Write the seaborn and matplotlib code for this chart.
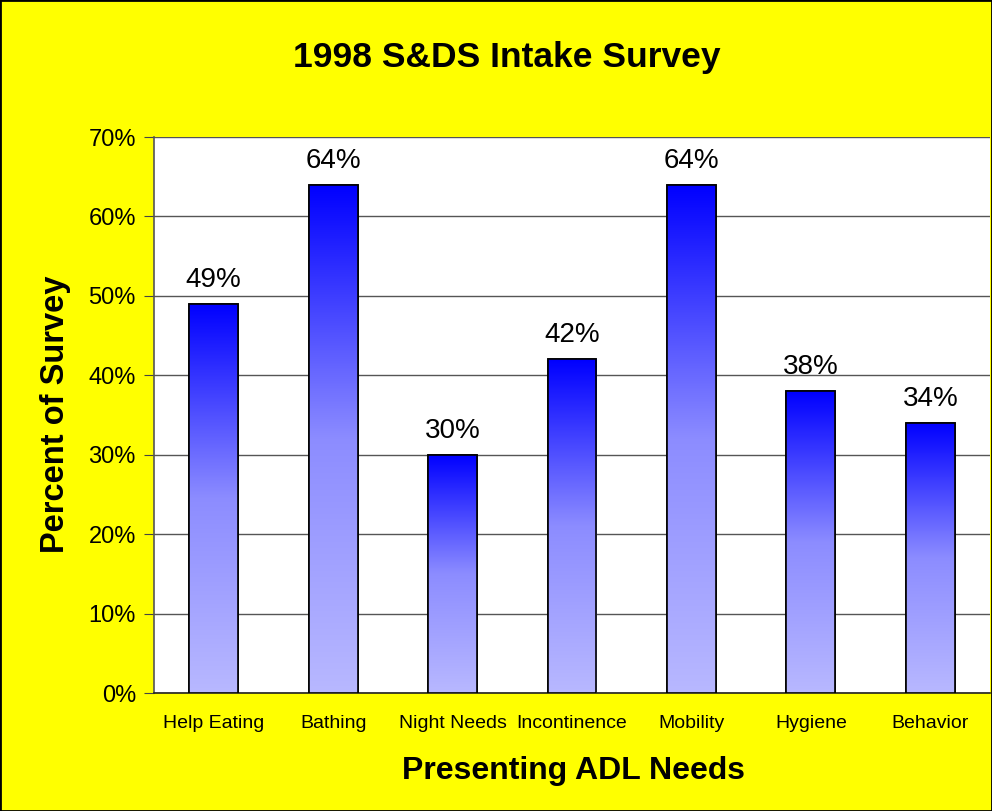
import numpy as np
import pandas as pd
import matplotlib.pyplot as plt
import seaborn as sns
from matplotlib.colors import LinearSegmentedColormap
from matplotlib.patches import Rectangle

# survey data
needs = ["Help Eating", "Bathing", "Night Needs", "Incontinence", "Mobility", "Hygiene", "Behavior"]
percent = [49, 64, 30, 42, 64, 38, 34]
y_ticks = [0, 10, 20, 30, 40, 50, 60, 70]

df = pd.DataFrame({"need": needs, "pct": percent})

sns.set_style("white")
plt.rcParams["font.family"] = ["Liberation Sans", "DejaVu Sans"]
plt.rcParams["text.color"] = "black"
plt.rcParams["axes.labelcolor"] = "black"

fig = plt.figure(figsize=(9.92, 8.11), dpi=100, facecolor="#FFFF00")
ax = fig.add_axes([154 / 992, 118 / 811, 836 / 992, 556 / 811])
ax.set_facecolor("white")

sns.barplot(data=df, x="need", y="pct", color="#0000FF", width=0.41,
            edgecolor="black", linewidth=1.2, ax=ax, zorder=3)

# gradient fill: blue at top of each bar, pale lavender at bottom
cmap = LinearSegmentedColormap.from_list("grad", ["#B8B8FF", "#8C8CFF", "#0000FF"])
grad = np.linspace(0, 1, 256).reshape(-1, 1)
for p in ax.patches:
    x0, w, h = p.get_x(), p.get_width(), p.get_height()
    im = ax.imshow(grad, cmap=cmap, origin="lower", aspect="auto",
                   extent=[x0, x0 + w, 0, h], zorder=3.5)
    im.set_clip_path(p)
    # redraw the outline above the gradient
    ax.add_patch(Rectangle((x0, 0), w, h, fill=False, edgecolor="black",
                           linewidth=1.2, zorder=4))
ax.set_xlim(-0.5, len(needs) - 0.5)
ax.set_ylim(0, 70)

# value labels
for i, v in enumerate(percent):
    ax.annotate(f"{v}%", (i, v), xytext=(0, 8), textcoords="offset points",
                ha="center", va="bottom", fontsize=20, color="black", zorder=5)

# axes styling
ax.set_yticks(y_ticks)
ax.set_yticklabels([f"{t}%" for t in y_ticks], fontsize=17)
ax.yaxis.grid(True, color="#555555", linewidth=1)
ax.set_axisbelow(True)
ax.set_xticks(np.arange(-0.5, len(needs)), labels=[""] * (len(needs) + 1))
ax.set_xticks(np.arange(len(needs)), labels=needs, minor=True, fontsize=14)
ax.tick_params(axis="x", which="major", length=6, color="#444444", direction="out")
ax.tick_params(axis="x", which="minor", length=0, pad=16, labelcolor="black")
ax.tick_params(axis="y", length=7, color="#444444", direction="out", pad=6, left=True,
               labelcolor="black")

for s in ["top", "right"]:
    ax.spines[s].set_visible(False)
ax.spines["left"].set_color("#555555")
ax.spines["bottom"].set_color("#222222")
ax.spines["left"].set_linewidth(1.2)
ax.spines["bottom"].set_linewidth(1.2)

ax.set_xlabel("Presenting ADL Needs", fontsize=23, fontweight="bold")
ax.set_ylabel("Percent of Survey", fontsize=23.5, fontweight="bold")
ax.xaxis.set_label_coords(0.502, -0.113)
ax.yaxis.set_label_coords(-0.099, 0.502)

fig.suptitle("1998 S&DS Intake Survey", fontsize=25.5, fontweight="bold",
             x=0.511, y=1 - 57 / 811, va="center")

# outer frame around the figure
fig.patches.append(Rectangle((0, 0), 1, 1, transform=fig.transFigure, fill=False,
                             edgecolor="black", linewidth=2))

fig.savefig("out.png", dpi=100, facecolor=fig.get_facecolor())
